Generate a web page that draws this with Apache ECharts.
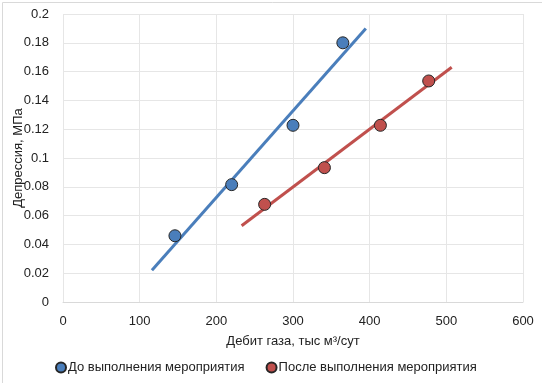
<!DOCTYPE html>
<html>
<head>
<meta charset="utf-8">
<script src="https://cdn.jsdelivr.net/npm/echarts@6/dist/echarts.min.js"></script>
<style>
html,body{margin:0;padding:0;background:#fff;}
#c{width:542px;height:383px;}
</style>
</head>
<body>
<div id="c"></div>
<script>
// Data
var seriesNames = ['До выполнения мероприятия', 'После выполнения мероприятия'];
var beforeX = [146, 220, 300, 365];
var beforeY = [0.046, 0.0815, 0.1227, 0.180];
var afterX = [263, 341, 414, 477];
var afterY = [0.0678, 0.0933, 0.1227, 0.1535];
// Trend line end points
var beforeTrendX = [116, 395];
var beforeTrendY = [0.022, 0.190];
var afterTrendX = [233, 507];
var afterTrendY = [0.053, 0.163];
var xTicks = [0, 100, 200, 300, 400, 500, 600];
var yTicks = ['0', '0.02', '0.04', '0.06', '0.08', '0.1', '0.12', '0.14', '0.16', '0.18', '0.2'];

function pairs(xs, ys) { return xs.map(function (x, i) { return [x, ys[i]]; }); }

var font = "'Liberation Sans', Arial, sans-serif";
var textColor = '#222222';
var blue = '#4A7EBB';
var red = '#C0504D';
var fs = 13;

var chart = echarts.init(document.getElementById('c'), null, {renderer: 'canvas'});
chart.setOption({
  animation: false,
  textStyle: {fontFamily: font, color: textColor},
  graphic: [{
    type: 'rect', left: 0, top: 0, silent: true,
    shape: {x: 0.5, y: 0.5, width: 541, height: 382},
    style: {fill: 'none', stroke: '#d9d9d9', lineWidth: 1}
  }],
  grid: {left: 63, right: 19, top: 14, bottom: 81, containLabel: false, outerBoundsMode: 'none'},
  xAxis: {
    type: 'value', min: 0, max: 600, interval: 100,
    name: 'Дебит газа, тыс м³/сут', nameLocation: 'middle', nameGap: 33, nameMoveOverlap: false,
    nameTextStyle: {fontFamily: font, fontSize: fs, color: textColor},
    axisLine: {show: true, lineStyle: {color: '#d9d9d9', width: 1}},
    axisTick: {show: false},
    axisLabel: {fontFamily: font, fontSize: fs, color: textColor, margin: 13,
      formatter: function (v) { return String(xTicks[Math.round(v / 100)]); }},
    splitLine: {show: true, lineStyle: {color: '#e6e6e6', width: 1}}
  },
  yAxis: {
    type: 'value', min: 0, max: 0.2, interval: 0.02,
    name: 'Депрессия, МПа', nameLocation: 'middle', nameGap: 38, nameRotate: 90, nameMoveOverlap: false,
    nameTextStyle: {fontFamily: font, fontSize: fs, color: textColor},
    axisLine: {show: false},
    axisTick: {show: false},
    axisLabel: {fontFamily: font, fontSize: fs, color: textColor, margin: 14,
      formatter: function (v) { return yTicks[Math.round(v / 0.02)]; }},
    splitLine: {show: true, lineStyle: {color: '#e6e6e6', width: 1}}
  },
  legend: {
    data: [
      {name: seriesNames[0], icon: 'circle'},
      {name: seriesNames[1], icon: 'circle'}
    ],
    top: 356, left: 50,
    itemWidth: 10, itemHeight: 10, itemGap: 21,
    textStyle: {fontFamily: font, fontSize: fs, color: textColor, padding: [0, 0, 0, -3]}
  },
  series: [
    {
      name: seriesNames[0] + ' trend', type: 'line', data: pairs(beforeTrendX, beforeTrendY),
      showSymbol: false, symbol: 'none', lineStyle: {color: blue, width: 3}, z: 1, silent: true
    },
    {
      name: seriesNames[1] + ' trend', type: 'line', data: pairs(afterTrendX, afterTrendY),
      showSymbol: false, symbol: 'none', lineStyle: {color: red, width: 3}, z: 1, silent: true
    },
    {
      name: seriesNames[0], type: 'scatter', data: pairs(beforeX, beforeY),
      symbol: 'circle', symbolSize: 12,
      itemStyle: {color: blue, borderColor: '#262626', borderWidth: 1, opacity: 1}, z: 3
    },
    {
      name: seriesNames[1], type: 'scatter', data: pairs(afterX, afterY),
      symbol: 'circle', symbolSize: 12,
      itemStyle: {color: red, borderColor: '#262626', borderWidth: 1, opacity: 1}, z: 3
    }
  ]
});
</script>
</body>
</html>
